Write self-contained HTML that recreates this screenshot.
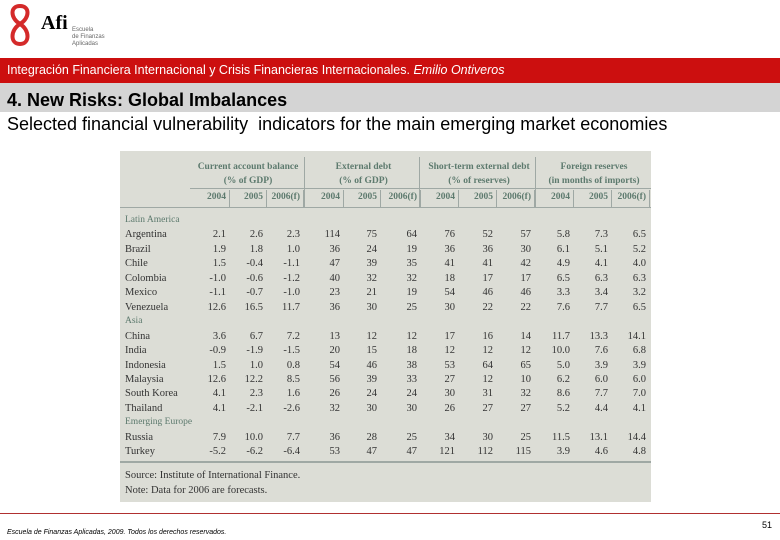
<!DOCTYPE html>
<html><head><meta charset="utf-8"><style>
body{margin:0;width:780px;height:540px;background:#fff;position:relative;overflow:hidden;font-family:"Liberation Sans",sans-serif}
.a{position:absolute;white-space:nowrap}
#tbl{position:absolute;left:120px;top:151px;width:531px;height:351px;background:#dcddd6;font-family:"Liberation Serif",serif;font-size:10.5px;color:#333}
.h{color:#5d7a6e;font-weight:bold;font-size:9.5px}
.ln{position:absolute;background:#9fa8a4}
</style></head><body>
<svg class="a" style="left:5px;top:4px" width="30" height="44" viewBox="0 0 30 44">
<path d="M15 2 C5 2 5 14 15 20 C25 26 25 40 15 40 C5 40 5 26 15 20 C25 14 25 2 15 2Z" fill="none" stroke="#d42a2a" stroke-width="4"/>
</svg>
<div class="a" style="left:41px;top:12px;font-family:'Liberation Serif',serif;font-size:20px;font-weight:bold">Afi</div>
<div class="a" style="left:72px;top:27px;font-size:6px;color:#666;line-height:7px">Escuela<br>de Finanzas<br>Aplicadas</div>
<div class="a" style="left:0;top:58px;width:780px;height:25px;background:#cc0f0f"></div>
<div class="a" style="left:7px;top:63px;font-size:12.5px;color:#fff">Integración Financiera Internacional y Crisis Financieras Internacionales. <i>Emilio Ontiveros</i></div>
<div class="a" style="left:0;top:83px;width:780px;height:29px;background:#d4d4d4"></div>
<div class="a" style="left:7px;top:90px;font-size:18px;font-weight:bold">4. New Risks: Global Imbalances</div>
<div class="a" style="left:7px;top:114px;font-size:18px">Selected financial vulnerability&nbsp; indicators for the main emerging market economies</div>
<div id="tbl"></div>
<div class="a" style="left:0;top:513px;width:780px;height:1px;background:#b03030"></div>
<div class="a" style="left:7px;top:529px;font-size:7px;font-style:italic">Escuela de Finanzas Aplicadas, 2009. Todos los derechos reservados.</div>
<div class="a" style="left:762px;top:520px;font-size:9px">51</div>
<script>
const groups=["Current account balance|(% of GDP)","External debt|(% of GDP)","Short-term external debt|(% of reserves)","Foreign reserves|(in months of imports)"];
const years=["2004","2005","2006(f)"];
const rows=[
["h","Latin America"],
["r","Argentina","2.1","2.6","2.3","114","75","64","76","52","57","5.8","7.3","6.5"],
["r","Brazil","1.9","1.8","1.0","36","24","19","36","36","30","6.1","5.1","5.2"],
["r","Chile","1.5","-0.4","-1.1","47","39","35","41","41","42","4.9","4.1","4.0"],
["r","Colombia","-1.0","-0.6","-1.2","40","32","32","18","17","17","6.5","6.3","6.3"],
["r","Mexico","-1.1","-0.7","-1.0","23","21","19","54","46","46","3.3","3.4","3.2"],
["r","Venezuela","12.6","16.5","11.7","36","30","25","30","22","22","7.6","7.7","6.5"],
["h","Asia"],
["r","China","3.6","6.7","7.2","13","12","12","17","16","14","11.7","13.3","14.1"],
["r","India","-0.9","-1.9","-1.5","20","15","18","12","12","12","10.0","7.6","6.8"],
["r","Indonesia","1.5","1.0","0.8","54","46","38","53","64","65","5.0","3.9","3.9"],
["r","Malaysia","12.6","12.2","8.5","56","39","33","27","12","10","6.2","6.0","6.0"],
["r","South Korea","4.1","2.3","1.6","26","24","24","30","31","32","8.6","7.7","7.0"],
["r","Thailand","4.1","-2.1","-2.6","32","30","30","26","27","27","5.2","4.4","4.1"],
["h","Emerging Europe"],
["r","Russia","7.9","10.0","7.7","36","28","25","34","30","25","11.5","13.1","14.4"],
["r","Turkey","-5.2","-6.2","-6.4","53","47","47","121","112","115","3.9","4.6","4.8"]
];
const T=document.getElementById('tbl');
const colR=[106,143,180,220,257,297,335,373,411,450,488,526];
const groupL=[70,186,301,417];
function add(html,x,y,cls,name,right){
  const d=document.createElement('div');d.className='a '+(cls||'');
  
  
  d.innerHTML=html;d.style.top=y+'px';
  if(right){d.style.right=(531-x)+'px';}else d.style.left=x+'px';
  T.appendChild(d);return d;
}
function line(x,y,w,h,name){
  const d=document.createElement('div');d.className='ln';
  
  
  d.style.cssText+=`left:${x}px;top:${y}px;width:${w}px;height:${h}px`;T.appendChild(d);
}
groups.forEach((g,i)=>{
  const [a,b]=g.split('|');
  const w=(i<3?groupL[i+1]:531)-groupL[i];
  const d=add(a+'<br>'+b,groupL[i],9,'h','group-header',false);
  d.style.width=w+'px';d.style.textAlign='center';d.style.lineHeight='14px';
  years.forEach((y,j)=>add(y,colR[i*3+j],41,'h','year-header',true));
  if(i>0) line(groupL[i]-2,6,1,51,'group-divider');
  for(let j=0;j<3;j++) line(colR[i*3+j]+3,39,1,18,'year-divider');
});
line(70,37,461,1,'header-line');
line(0,56,531,1,'header-bottom-line');
rows.forEach((r,k)=>{
  const y=64+k*14.45;
  if(r[0]==='h'){add(r[1],5,y,'h','region-label',false).style.fontWeight='normal';return;}
  add(r[1],5,y,'','country-label',false);
  for(let c=0;c<12;c++) add(r[c+2],colR[c],y,'','cell-value',true);
});
line(0,310,531,2,'table-bottom-line');
add('Source: Institute of International Finance.',5,319,'','table-source',false);
add('Note: Data for 2006 are forecasts.',5,334,'','table-note',false);
</script>
</body></html>
